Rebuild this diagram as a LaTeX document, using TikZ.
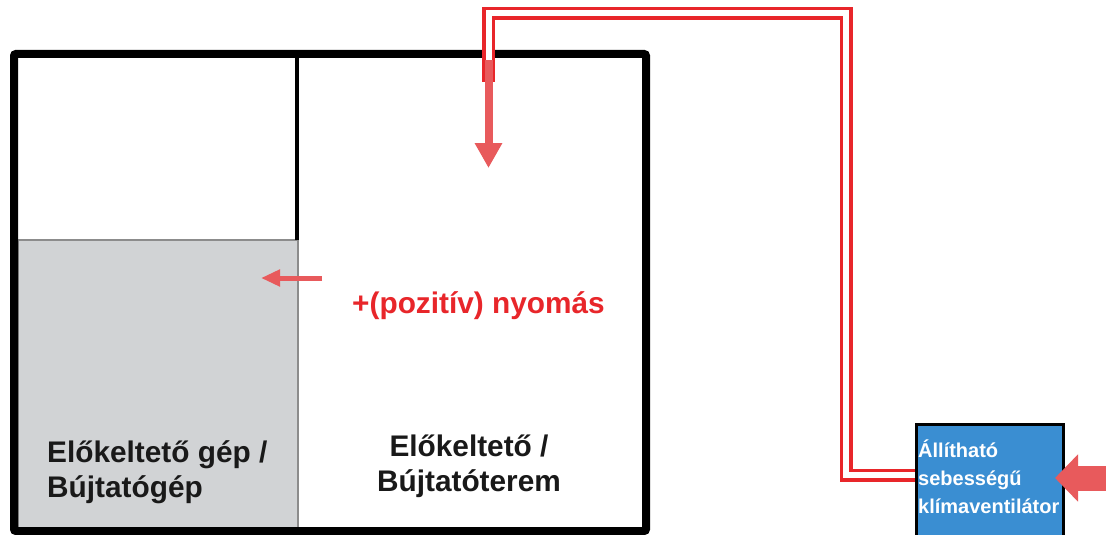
\documentclass[tikz,border=0pt]{standalone}
\usepackage{fontspec}
\setmainfont{Liberation Sans}
\usetikzlibrary{arrows.meta}

\definecolor{wallgray}{HTML}{D1D3D5}
\definecolor{edgegray}{HTML}{8C8C8C}
\definecolor{ductred}{HTML}{E8262A}
\definecolor{flowred}{HTML}{E85A5C}
\definecolor{fanblue}{HTML}{3A8ED2}

\tikzset{
  wall/.style={draw=black, line width=8pt, rounded corners=2pt},
  partition/.style={draw=black, line width=4pt},
  machine/.style={fill=wallgray, draw=edgegray, line width=2.2pt},
  duct/.style={draw=ductred, line width=3.5pt, double=white, double distance=6pt, line cap=butt},
  flow/.style={draw=flowred},
  fanbox/.style={draw=black, line width=2.5pt, fill=fanblue, minimum width=147pt, minimum height=112pt, inner sep=0pt},
  label/.style={font=\bfseries\fontsize{29.8}{35}\selectfont, text=black!90, inner sep=0pt},
  fanlabel/.style={font=\bfseries\fontsize{20}{28}\selectfont, text=white, inner sep=0pt, align=left},
  pressure/.style={font=\bfseries\fontsize{29.8}{35}\selectfont, text=ductred, inner sep=0pt}
}

\begin{document}
\begin{tikzpicture}[x=1pt, y=-1pt]
  \useasboundingbox (0,0) rectangle (1106,535);
  \fill[white] (0,0) rectangle (1106,535);

  % pre-germination machine (grey)
  \draw[machine] (18,240) rectangle (298,533);

  % room walls and partition
  \draw[wall] (14,54) rectangle (646,531);
  \draw[partition] (297,56) -- (297,240);

  % climate fan
  \node[fanbox, anchor=north west] (fan) at (915,423) {};
  \node[fanlabel, anchor=base west] (fantxt) at (918,513) {Állítható\\sebességű\\klímaventilátor};

  % air duct from fan to room
  \coordinate (ductin) at (fan.west |- 0,475);
  \coordinate (ductend) at (488.5,82);
  \draw[duct] (ductin) -- (846,475) -- (846,13.5) -- (488.5,13.5) -- (ductend);

  % air flow arrows
  \coordinate (inflow0) at (488.5,60);
  \coordinate (inflow1) at (488.5,168);
  \draw[flow, line width=8pt, -{Triangle[length=25pt,width=26pt]}] (inflow0) -- (inflow1);

  \coordinate (fanin0) at (1106,478);
  \coordinate (fanin1) at (1055,478);
  \draw[flow, line width=25pt, -{Triangle[length=23pt,width=46pt]}] (fanin0) -- (fanin1);

  \coordinate (leak0) at (322,278);
  \coordinate (leak1) at (261,278);
  \draw[flow, line width=5pt, -{Triangle[length=19pt,width=16pt]}] (leak0) -- (leak1);

  % labels
  \node[pressure, anchor=base] (press) at (478.5,313) {+(pozitív) nyomás};
  \node[label, anchor=base west, align=left] (mach) at (47,497) {Előkeltető gép /\\Bújtatógép};
  \node[label, anchor=base, align=center] (room) at (469,491) {Előkeltető /\\Bújtatóterem};
\end{tikzpicture}
\end{document}
